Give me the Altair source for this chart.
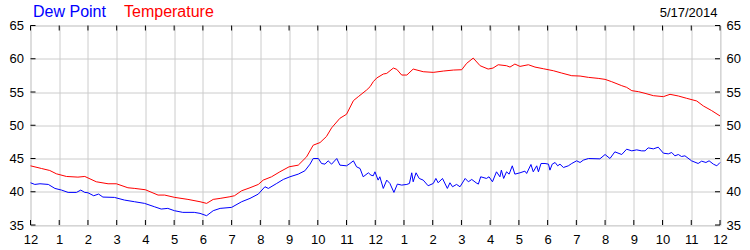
import altair as alt
import pandas as pd

# ---- data ----
hour_ticks = list(range(25))
y_ticks = [35, 40, 45, 50, 55, 60, 65]

temp_hours = [0.00, 0.38, 0.67, 0.90, 1.25, 1.65, 1.89, 2.29, 2.70, 2.99, 3.39, 3.63, 4.00, 4.44, 4.67,
              5.02, 5.48, 5.90, 6.13, 6.36, 6.60, 6.94, 7.10, 7.35, 7.64, 7.93, 8.10, 8.39, 8.68, 9.00,
              9.32, 9.61, 9.84, 10.08, 10.30, 10.48, 10.77, 11.00, 11.24, 11.41, 11.70, 11.82, 11.93,
              12.05, 12.28, 12.40, 12.63, 12.75, 12.92, 13.10, 13.32, 13.67, 14.02, 14.37, 14.72, 15.01,
              15.18, 15.41, 15.65, 15.93, 16.10, 16.28, 16.57, 16.69, 16.86, 17.04, 17.33, 17.56, 17.85,
              18.20, 18.49, 18.84, 19.13, 19.42, 19.76, 20.00, 20.23, 20.58, 20.75, 20.93, 21.16, 21.39,
              21.68, 22.03, 22.26, 22.55, 22.84, 23.19, 23.42, 23.71, 24.00]
temp_values = [43.9, 43.5, 43.2, 42.7, 42.3, 42.2, 42.3, 41.5, 41.2, 41.2, 40.6, 40.5, 40.3, 39.5, 39.5,
               39.15, 38.85, 38.5, 38.25, 38.85, 39.0, 39.25, 39.4, 40.15, 40.6, 41.1, 41.75, 42.25, 43.0, 43.75,
               44.0, 45.25, 47.0, 47.4, 48.3, 49.6, 51.05, 51.65, 53.7, 54.3, 55.3, 55.8, 56.55,
               57.1, 57.7, 57.8, 58.6, 58.4, 57.55, 57.55, 58.45, 58.05, 57.95, 58.15, 58.3, 58.35,
               59.3, 60.1, 58.95, 58.45, 58.6, 59.1, 58.95, 58.75, 59.2, 58.85, 59.1, 58.75, 58.5,
               58.2, 57.85, 57.45, 57.4, 57.2, 57.05, 56.9, 56.55, 55.95, 55.7, 55.2, 55.05, 54.8,
               54.45, 54.3, 54.65, 54.4, 54.05, 53.65, 52.9, 52.2, 51.4]

dew_hours = [0.00, 0.15, 0.33, 0.62, 0.85, 1.08, 1.31, 1.60, 1.75, 1.89, 2.00, 2.20, 2.37, 2.52, 2.92,
             3.27, 3.62, 3.97, 4.31, 4.55, 4.78, 5.01, 5.30, 5.70, 5.90, 6.13, 6.36, 6.60, 7.00, 7.35,
             7.64, 7.93, 8.16, 8.28, 8.57, 8.80, 9.03, 9.32, 9.55, 9.73, 9.84, 10.02, 10.13, 10.25,
             10.36, 10.48, 10.66, 10.77, 11.00, 11.12, 11.24, 11.35, 11.47, 11.58, 11.76, 11.85, 11.93,
             11.99, 12.10, 12.16, 12.28, 12.40, 12.51, 12.65, 12.77, 12.92, 13.10, 13.19, 13.27, 13.32,
             13.42, 13.53, 13.67, 13.84, 14.02, 14.11, 14.19, 14.34, 14.51, 14.60, 14.69, 14.83, 14.95,
             15.13, 15.24, 15.36, 15.51, 15.59, 15.67, 15.87, 15.96, 16.08, 16.22, 16.34, 16.39, 16.47,
             16.57, 16.66, 16.77, 16.86, 17.04, 17.21, 17.27, 17.42, 17.50, 17.62, 17.68, 17.77, 17.91,
             18.03, 18.08, 18.16, 18.26, 18.35, 18.43, 18.55, 18.72, 18.84, 19.01, 19.13, 19.24, 19.42,
             19.82, 20.00, 20.17, 20.34, 20.58, 20.75, 20.93, 21.10, 21.27, 21.39, 21.50, 21.68, 21.85,
             22.03, 22.20, 22.32, 22.43, 22.55, 22.66, 22.78, 23.01, 23.24, 23.36, 23.51, 23.62, 23.77,
             23.89, 24.00]
dew_values = [41.35, 41.1, 41.2, 41.1, 40.5, 40.25, 39.9, 39.9, 40.25, 39.9, 39.85, 39.4, 39.65, 39.2, 39.15,
              38.75, 38.5, 38.25, 37.75, 37.4, 37.5, 37.15, 36.9, 36.9, 36.75, 36.4, 37.15, 37.5, 37.65, 38.5,
              39.0, 39.65, 40.75, 40.5, 41.25, 41.85, 42.25, 42.65, 43.15, 44.15, 45.0, 45.0, 44.25, 44.15,
              44.65, 44.15, 45.0, 44.0, 43.9, 44.25, 44.65, 43.75, 43.5, 42.25, 42.85, 42.5, 42.4,
              43.0, 41.75, 42.25, 40.5, 41.75, 41.25, 39.9, 41.15, 41.0, 41.1, 41.25, 42.85, 41.5,
              42.85, 42.0, 41.75, 40.9, 41.25, 42.0, 41.35, 42.0, 40.5, 41.35, 40.75, 41.1, 40.75,
              42.0, 41.5, 41.85, 41.35, 41.15, 42.25, 42.0, 42.25, 41.5, 43.0, 42.25, 43.25, 42.0,
              43.0, 42.65, 43.9, 42.65, 42.85, 43.1, 42.75, 44.1, 43.0, 43.9, 43.0, 44.25, 44.25,
              44.15, 43.25, 44.15, 44.4, 43.9, 44.15, 43.65, 43.9, 44.25, 44.65, 44.4, 44.75, 45.0,
              44.95, 45.6, 45.0, 46.0, 45.6, 46.4, 46.15, 46.3, 46.15, 46.15, 46.6, 46.45, 46.7,
              45.8, 45.7, 45.9, 45.4, 45.6, 45.3, 45.4, 44.65, 44.25, 44.6, 44.4, 44.65, 44.15,
              43.9, 44.4]

series_names = ["Dew Point", "Temperature"]
series_colors = ["#0000ff", "#ff0000"]
date_label = ["5/17/2014"]

# ---- tables ----
temp_df = pd.DataFrame({"hour": temp_hours, "value": temp_values})
dew_df = pd.DataFrame({"hour": dew_hours, "value": dew_values})
xt_df = pd.DataFrame({"hour": hour_ticks})
yt_df = pd.DataFrame({"value": y_ticks})

W, H = 689.5, 199.5
FONT = "Liberation Sans"
x_scale = alt.Scale(domain=[0, 24], nice=False, zero=False)
y_scale = alt.Scale(domain=[35, 65], nice=False, zero=False)

x_axis = alt.Axis(values=hour_ticks, title=None, grid=True, gridColor="#cccccc", ticks=False,
                  domain=False, labelFont=FONT, labelFontSize=13, labelColor="#000000",
                  labelPadding=8, labelFlush=False, labelOverlap=False,
                  labelExpr="datum.value % 12 == 0 ? '12' : '' + (datum.value % 12)")
y_left = alt.Axis(values=y_ticks, orient="left", title=None, grid=True, gridColor="#cccccc",
                  ticks=False, domain=False, labelFont=FONT, labelFontSize=13,
                  labelColor="#000000", labelPadding=7, labelOverlap=False)
y_right = alt.Axis(values=y_ticks, orient="right", title=None, grid=False, ticks=False,
                   domain=False, labelFont=FONT, labelFontSize=13, labelColor="#000000",
                   labelPadding=6, labelOverlap=False)

temp_line = alt.Chart(temp_df).mark_line(color=series_colors[1], strokeWidth=1).encode(
    x=alt.X("hour:Q", scale=x_scale, axis=x_axis),
    y=alt.Y("value:Q", scale=y_scale, axis=y_left),
)
dew_line = alt.Chart(dew_df).mark_line(color=series_colors[0], strokeWidth=1).encode(
    x=alt.X("hour:Q", scale=x_scale, axis=x_axis),
    y=alt.Y("value:Q", scale=y_scale, axis=y_right),
)

xt_bottom = alt.Chart(xt_df).mark_rule(color="black", strokeWidth=1).encode(
    x=alt.X("hour:Q", scale=x_scale, axis=x_axis), y=alt.value(H - 5), y2=alt.value(H))
xt_top = alt.Chart(xt_df).mark_rule(color="black", strokeWidth=1).encode(
    x=alt.X("hour:Q", scale=x_scale, axis=x_axis), y=alt.value(0), y2=alt.value(5))
yt_left = alt.Chart(yt_df).mark_rule(color="black", strokeWidth=1).encode(
    y=alt.Y("value:Q", scale=y_scale, axis=None), x=alt.value(0), x2=alt.value(5))
yt_right = alt.Chart(yt_df).mark_rule(color="black", strokeWidth=1).encode(
    y=alt.Y("value:Q", scale=y_scale, axis=None), x=alt.value(W - 5), x2=alt.value(W))

dew_title = alt.Chart(pd.DataFrame({"t": [series_names[0]]})).mark_text(
    font=FONT, fontSize=16, align="left", baseline="alphabetic", color=series_colors[0]).encode(
    text="t:N", x=alt.value(2.5), y=alt.value(-8.5))
temp_title = alt.Chart(pd.DataFrame({"t": [series_names[1]]})).mark_text(
    font=FONT, fontSize=16, align="left", baseline="alphabetic", color=series_colors[1]).encode(
    text="t:N", x=alt.value(93.5), y=alt.value(-8.5))
date_text = alt.Chart(pd.DataFrame({"t": date_label})).mark_text(
    font=FONT, fontSize=13, align="right", baseline="alphabetic", color="#000000").encode(
    text="t:N", x=alt.value(687), y=alt.value(-9))

chart = alt.layer(
    temp_line, dew_line, xt_bottom, xt_top, yt_left, yt_right, dew_title, temp_title, date_text
).resolve_scale(y="independent").properties(
    width=W, height=H, autosize="none",
    padding={"left": 30.5, "top": 25.5, "right": 30, "bottom": 25},
).configure_view(stroke="black", strokeWidth=1).configure(background="white")

chart.save("out.html", embed_options={"renderer": "svg", "actions": False})
